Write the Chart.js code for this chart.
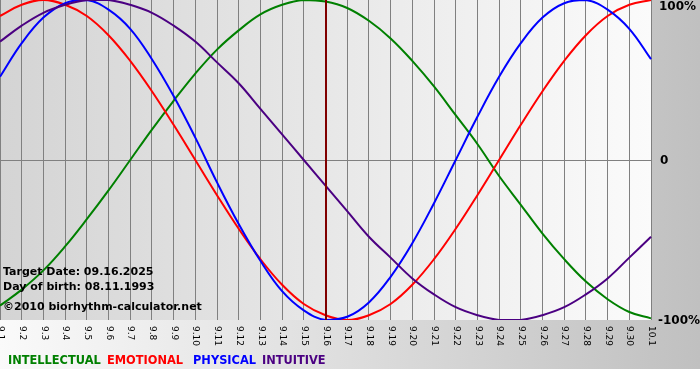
<!DOCTYPE html>
<html>
<head>
<meta charset="utf-8">
<script src="https://cdn.jsdelivr.net/npm/chart.js@4.4.0/dist/chart.umd.min.js"></script>
<style>
    html, body { margin: 0; padding: 0; background: #fff; }
    #wrap { width: 700px; height: 380px; }
</style>
</head>
<body>
<div id="wrap"><canvas id="bioChart" width="700" height="380"></canvas></div>
<script>
// days shown on the x axis (month.day)
const days = ['9.1', '9.2', '9.3', '9.4', '9.5', '9.6', '9.7', '9.8', '9.9', '9.10',
    '9.11', '9.12', '9.13', '9.14', '9.15', '9.16', '9.17', '9.18', '9.19', '9.20',
    '9.21', '9.22', '9.23', '9.24', '9.25', '9.26', '9.27', '9.28', '9.29', '9.30', '10.1'];

// values in percent
const intellectual = [-91, -81, -69, -54, -37, -19, 0, 19, 37, 54, 69, 81, 91, 97, 100, 99,
    95, 87, 76, 62, 46, 28, 10, -10, -28, -46, -62, -76, -87, -95, -99];
const emotional = [90, 97, 100, 97, 90, 78, 62, 43, 22, 0, -22, -43, -62, -78, -90, -97,
    -100, -97, -90, -78, -62, -43, -22, 0, 22, 43, 62, 78, 90, 97, 100];
const physical = [52, 73, 89, 98, 100, 94, 82, 63, 40, 14, -14, -40, -63, -82, -94, -100,
    -98, -89, -73, -52, -27, 0, 27, 52, 73, 89, 98, 100, 94, 82, 63];
const intuitive = [74, 84, 92, 97, 100, 100, 97, 92, 84, 74, 61, 48, 32, 16, 0, -16, -32,
    -48, -61, -74, -84, -92, -97, -100, -100, -97, -92, -84, -74, -61, -48];

const yTicks = ['100%', '0', '-100%'];
const targetDay = '9.16';
const infoLines = ['Target Date: 09.16.2025', 'Day of birth: 08.11.1993', '\u00a92010 biorhythm-calculator.net'];

const colors = {
    intellectual: '#008000',
    emotional: '#ff0000',
    physical: '#0000ff',
    intuitive: '#4b0082'
};

const backdrop = {
    id: 'backdrop',
    beforeDraw(chart) {
        const { ctx, chartArea: a, width } = chart;
        ctx.save();
        let g = ctx.createLinearGradient(0, 0, width, 0);
        g.addColorStop(0, '#fafafa');
        g.addColorStop(1, '#c0c0c0');
        ctx.fillStyle = g;
        ctx.fillRect(0, 0, width, 369);
        g = ctx.createLinearGradient(a.left, 0, a.right, 0);
        g.addColorStop(0, '#d4d4d4');
        g.addColorStop(1, '#fbfbfb');
        ctx.fillStyle = g;
        ctx.fillRect(a.left, a.top, a.right - a.left, a.bottom - a.top);
        ctx.restore();
    }
};

const overlay = {
    id: 'overlay',
    afterDatasetsDraw(chart) {
        const { ctx, chartArea: a } = chart;
        const xs = chart.scales.x;
        const ys = chart.scales.y;
        ctx.save();

        // target date marker
        const tx = Math.round(xs.getPixelForValue(days.indexOf(targetDay)));
        ctx.strokeStyle = '#800000';
        ctx.lineWidth = 2;
        ctx.beginPath();
        ctx.moveTo(tx, a.top);
        ctx.lineTo(tx, a.bottom);
        ctx.stroke();

        // info text
        ctx.fillStyle = '#000';
        ctx.font = 'bold 11px "DejaVu Sans"';
        ctx.textBaseline = 'middle';
        ctx.textAlign = 'left';
        ctx.fillText(infoLines[0], 3, 272);
        ctx.fillText(infoLines[1], 3, 287);
        ctx.fillText(infoLines[2], 3, 307);

        // rotated day labels
        ctx.font = '9px "DejaVu Sans"';
        days.forEach((d, i) => {
            const x = xs.getPixelForValue(i);
            ctx.save();
            ctx.translate(x + 0.5, a.bottom + 6);
            ctx.rotate(Math.PI / 2);
            ctx.textAlign = 'left';
            ctx.textBaseline = 'middle';
            ctx.fillText(d, 0, 0);
            ctx.restore();
        });

        // right side percent labels
        ctx.font = 'bold 12px "DejaVu Sans"';
        ctx.textAlign = 'left';
        ctx.fillText(yTicks[0], 659, 7);
        ctx.fillText(yTicks[1], 660, ys.getPixelForValue(0) + 1);
        ctx.fillText(yTicks[2], 658, a.bottom + 1);

        // legend
        ctx.font = 'bold 11.4px "DejaVu Sans"';
        const legend = [
            ['INTELLECTUAL', colors.intellectual, 8],
            ['EMOTIONAL', colors.emotional, 107],
            ['PHYSICAL', colors.physical, 193],
            ['INTUITIVE', colors.intuitive, 262]
        ];
        legend.forEach(([t, c, x]) => {
            ctx.fillStyle = c;
            ctx.fillText(t, x, 361);
        });
        ctx.restore();
    }
};

const ctx = document.getElementById('bioChart').getContext('2d');
const line = (label, data, color, order) => ({
    label, data,
    borderColor: color,
    borderWidth: 2,
    pointRadius: 0,
    fill: false,
    tension: 0.4,
    order
});

new Chart(ctx, {
    type: 'line',
    data: {
        labels: days,
        datasets: [
            line('INTELLECTUAL', intellectual, colors.intellectual, 4),
            line('EMOTIONAL', emotional, colors.emotional, 3),
            line('PHYSICAL', physical, colors.physical, 2),
            line('INTUITIVE', intuitive, colors.intuitive, 1)
        ]
    },
    options: {
        responsive: false,
        animation: false,
        layout: { padding: { left: 0, right: 49, top: 0, bottom: 60 } },
        plugins: { legend: { display: false }, tooltip: { enabled: false } },
        scales: {
            x: {
                offset: false,
                border: { display: false },
                ticks: { display: false },
                grid: { color: '#808080', lineWidth: 1, drawTicks: false }
            },
            y: {
                min: -100,
                max: 100,
                border: { display: false },
                ticks: { display: false, stepSize: 100 },
                grid: {
                    drawTicks: false,
                    color: c => c.tick.value === 0 ? '#808080' : 'rgba(0,0,0,0)'
                }
            }
        }
    },
    plugins: [backdrop, overlay]
});
</script>
</body>
</html>
